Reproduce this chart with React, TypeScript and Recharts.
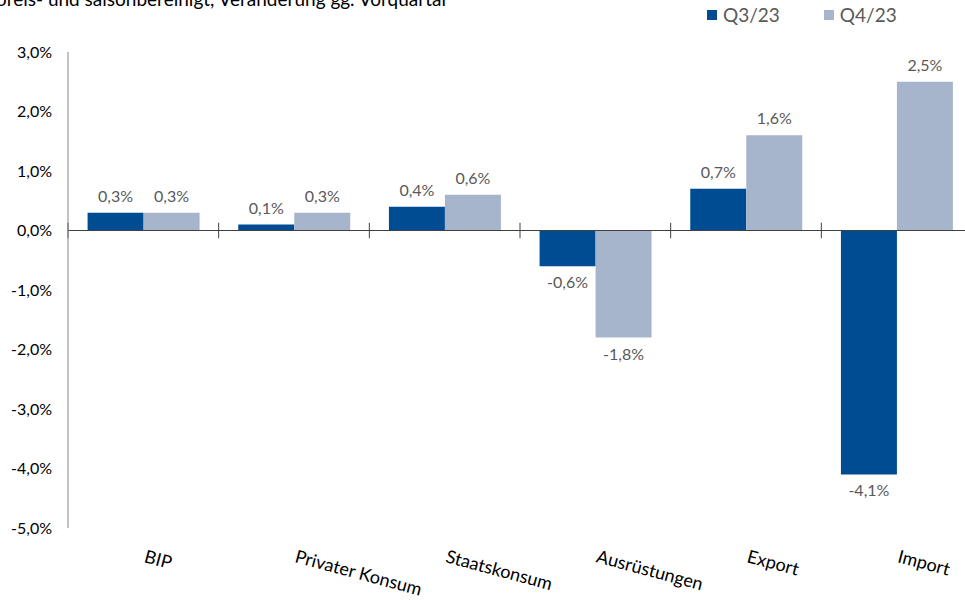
import React from 'react';
import { BarChart, Bar, XAxis, YAxis, ReferenceLine, LabelList } from 'recharts';

const categories = ['BIP', 'Privater Konsum', 'Staatskonsum', 'Ausrüstungen', 'Export', 'Import'];
const q3Values = [0.3, 0.1, 0.4, -0.6, 0.7, -4.1];
const q4Values = [0.3, 0.3, 0.6, -1.8, 1.6, 2.5];
const yTicks = [-5, -4, -3, -2, -1, 0, 1, 2, 3];
const seriesNames = ['Q3/23', 'Q4/23'];
const subtitle = 'preis- und saisonbereinigt, Veränderung gg. Vorquartal';

const COLORS = ['#004C93', '#A6B5CC'];
const FONT = 'Lato, "Open Sans", sans-serif';

const data = categories.map((name, i) => ({ name, pos: i + 0.5, q3: q3Values[i], q4: q4Values[i] }));
const boundaries = categories.map((_, i) => i).concat(categories.length);

const fmt = (v: number) => `${v.toFixed(1).replace('.', ',')}%`;

const CategoryTick = (props: any) => {
  const { x, y, payload } = props;
  const ty = y + 26;
  return (
    <text x={x} y={ty} transform={`rotate(15, ${x}, ${ty})`} textAnchor="start"
      fontFamily={FONT} fontSize={18} fill="#000">
      {payload.value}
    </text>
  );
};

const ValueLabel = (props: any) => {
  const { x, y, width, height, value } = props;
  const top = Math.min(y, y + height);
  const bottom = Math.max(y, y + height);
  const cx = x + width / 2;
  return (
    <text x={cx} y={value >= 0 ? top - 11 : bottom + 22} textAnchor="middle"
      fontFamily={FONT} fontSize={16} fill="#595959">
      {fmt(value)}
    </text>
  );
};

export default function App() {
  return (
    <div style={{ position: 'absolute', left: 0, top: 0, width: 965, height: 605, overflow: 'hidden', background: '#fff' }}>
      <div style={{ position: 'absolute', left: -4, top: -13, fontFamily: FONT, fontSize: 19, color: '#000', whiteSpace: 'nowrap' }}>
        {subtitle}
      </div>
      <div style={{ position: 'absolute', left: 707, top: 3, display: 'flex', alignItems: 'center', fontFamily: FONT, fontSize: 19, color: '#595959' }}>
        {seriesNames.map((n, i) => (
          <div key={n} style={{ display: 'flex', alignItems: 'center', marginRight: i === 0 ? 44 : 0 }}>
            <span style={{ display: 'inline-block', width: 10, height: 10, background: COLORS[i], marginRight: 6 }} />
            {n}
          </div>
        ))}
      </div>
      <BarChart width={975} height={605} data={data}
        margin={{ top: 52, right: 3, bottom: 47, left: 0 }}
        barCategoryGap="13%" barGap={0}>
        <XAxis dataKey="name" axisLine={false} tickLine={false} interval={0} tick={<CategoryTick />} />
        <XAxis xAxisId="grid" dataKey="pos" type="number" domain={[0, 6]} allowDataOverflow hide />
        <YAxis domain={[-5, 3]} ticks={yTicks} width={68} tickFormatter={fmt}
          axisLine={{ stroke: '#868686' }} tickLine={false}
          tick={{ fill: '#000', fontSize: 16, fontFamily: FONT }} tickMargin={10} />
        <ReferenceLine y={0} stroke="#404040" />
        {boundaries.map((b) => (
          <ReferenceLine key={b} xAxisId="grid" stroke="#404040" ifOverflow="visible"
            segment={[{ x: b, y: -0.13 }, { x: b, y: 0.13 }]} />
        ))}
        <Bar dataKey="q3" name={seriesNames[0]} fill={COLORS[0]} isAnimationActive={false}>
          <LabelList dataKey="q3" content={<ValueLabel />} />
        </Bar>
        <Bar dataKey="q4" name={seriesNames[1]} fill={COLORS[1]} isAnimationActive={false}>
          <LabelList dataKey="q4" content={<ValueLabel />} />
        </Bar>
      </BarChart>
    </div>
  );
}
